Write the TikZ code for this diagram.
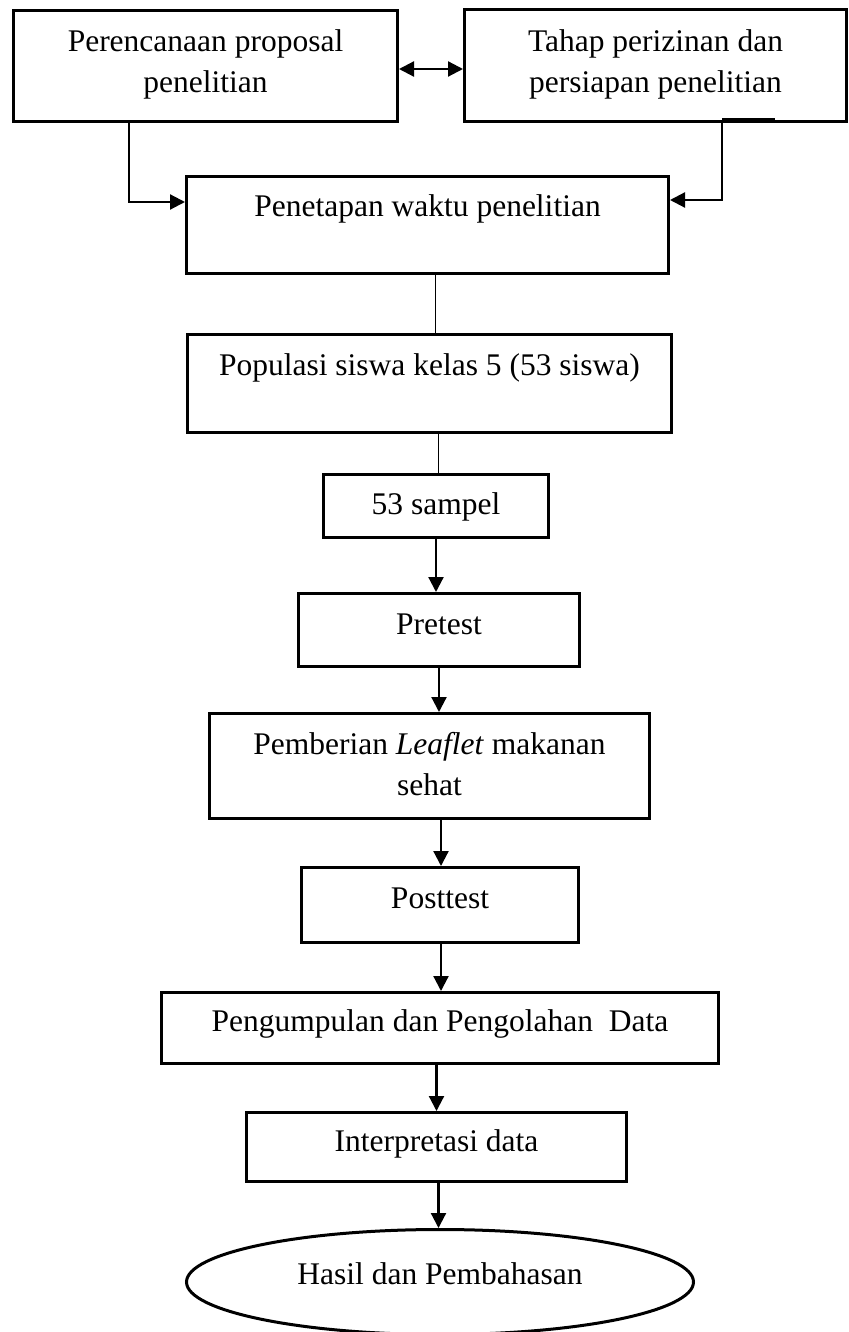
\documentclass[tikz,border=0pt]{standalone}
\usepackage{fontspec}
\setmainfont{Liberation Serif}
\usetikzlibrary{arrows.meta,shapes.geometric}
\begin{document}
\begin{tikzpicture}[x=1pt,y=1pt,
  box/.style={draw, line width=3pt, rectangle, inner sep=0pt},
  oval/.style={draw, line width=3pt, ellipse, inner sep=0pt},
  txt/.style={font=\fontsize{31.5}{41}\selectfont, align=center, inner sep=0pt},
  arr/.style={line width=2.2pt, -{Triangle[length=15pt,width=15pt]}},
  darr/.style={line width=2.2pt, {Triangle[length=15pt,width=15pt]}-{Triangle[length=15pt,width=15pt]}},
  thinline/.style={line width=1pt}]
\useasboundingbox (0,0) rectangle (848,-1332);
% boxes
\node[box, minimum width=384pt, minimum height=111pt] (b1) at (205.5,-66) {};
\node[box, minimum width=382pt, minimum height=112pt] (b2) at (655.5,-65.5) {};
\node[box, minimum width=482pt, minimum height=97pt] (b3) at (427.5,-225) {};
\node[box, minimum width=484pt, minimum height=98pt] (b4) at (429.5,-383.5) {};
\node[box, minimum width=225pt, minimum height=63pt] (b5) at (436,-506) {};
\node[box, minimum width=281pt, minimum height=73pt] (b6) at (439,-630) {};
\node[box, minimum width=440pt, minimum height=105pt] (b7) at (429.5,-766) {};
\node[box, minimum width=277pt, minimum height=75pt] (b8) at (440,-905) {};
\node[box, minimum width=557pt, minimum height=71pt] (b9) at (440,-1028) {};
\node[box, minimum width=380pt, minimum height=69pt] (b10) at (436.5,-1147) {};
\node[oval, minimum width=507pt, minimum height=105pt] (e11) at (440,-1282) {};
% texts
\node[txt] (t1) at (205.5,-64) {Perencanaan proposal\\penelitian};
\node[txt] (t2) at (655.5,-64) {Tahap perizinan dan\\persiapan penelitian};
\node[txt] (t3) at (427.5,-209) {Penetapan waktu penelitian};
\node[txt] (t4) at (429.5,-368) {Populasi siswa kelas 5 (53 siswa)};
\node[txt] (t5) at (436,-507) {53 sampel};
\node[txt] (t6) at (439,-624) {Pretest};
\node[txt] (t7) at (429.5,-764) {Pemberian \textit{Leaflet} makanan\\sehat};
\node[txt] (t8) at (440,-898) {Posttest};
\node[txt] (t9) at (440,-1024) {Pengumpulan dan Pengolahan\ \ Data};
\node[txt] (t10) at (436.5,-1144) {Interpretasi data};
\node[txt] (t11) at (440,-1274) {Hasil dan Pembahasan};
% helper coordinates
\coordinate (k0) at (0,-69);
\coordinate (k1) at (129,-202);
\coordinate (k2) at (722,-200);
\coordinate (k3) at (775,-119);
\coordinate (v1) at (435,0);
\coordinate (v2) at (438,0);
\coordinate (v3) at (436,0);
\coordinate (v4) at (439,0);
\coordinate (v5) at (441,0);
\coordinate (v6) at (436.5,0);
\coordinate (v7) at (438.5,0);
% connectors
\draw[darr] (b1.east |- k0) -- (b2.west |- k0);
\draw[arr] (b1.south -| k1) |- (b3.west |- k1);
\draw[arr] (b2.south -| k2) |- (b3.east |- k2);
\draw[line width=1.5pt] (k2 |- k3) -- (k3);
\draw[thinline] (b3.south -| v1) -- (b4.north -| v1);
\draw[thinline] (b4.south -| v2) -- (b5.north -| v2);
\draw[arr] (b5.south -| v3) -- (b6.north -| v3);
\draw[arr] (b6.south -| v4) -- (b7.north -| v4);
\draw[arr] (b7.south -| v5) -- (b8.north -| v5);
\draw[arr] (b8.south -| v5) -- (b9.north -| v5);
\draw[arr] (b9.south -| v6) -- (b10.north -| v6);
\draw[arr] (b10.south -| v7) -- (e11.north -| v7);
\end{tikzpicture}
\end{document}
